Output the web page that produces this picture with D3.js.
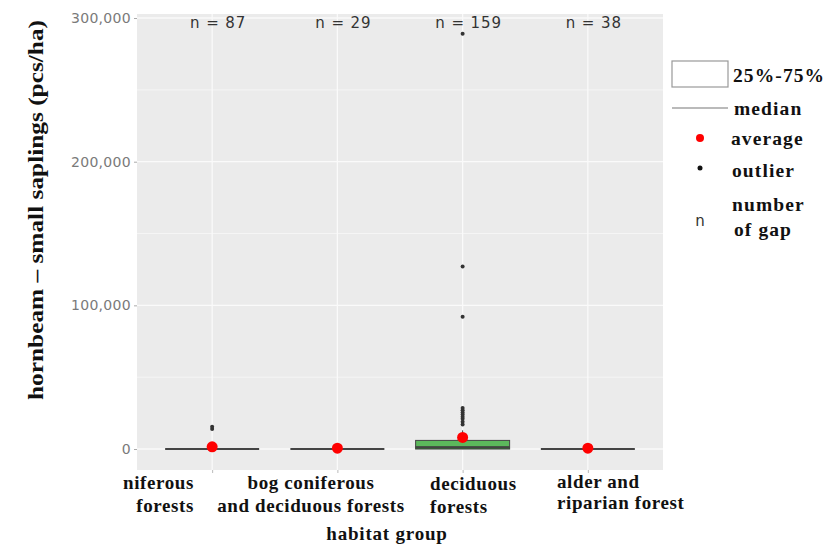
<!DOCTYPE html>
<html><head><meta charset="utf-8">
<script src="https://cdn.jsdelivr.net/npm/d3@7"></script>
<style>body{margin:0;background:#fff}</style>
</head><body>
<svg id="c" width="827" height="545"></svg>
<script>
const categories = ["niferous forests","bog coniferous and deciduous forests","deciduous forests","alder and riparian forest"];
const labelLines = [["niferous","forests"],["bog coniferous","and deciduous forests"],["deciduous","forests"],["alder and","riparian forest"]];
const nCounts = [87, 29, 159, 38];
const q1 = [0, 0, 0, 0];
const medians = [0, 0, 1200, 0];
const q3 = [0, 0, 6000, 0];
const whiskerHigh = [0, 0, 13000, 0];
const averages = [1500, 600, 8100, 600];
const outliers = [
  [14000, 15500],
  [],
  [17000, 19000, 21000, 22500, 24000, 25500, 27000, 28500, 92000, 127000, 289000],
  []
];
const yTicks = [0, 100000, 200000, 300000];
const yMinor = [50000, 150000, 250000];
const legendLabels = ["25%-75%","median","average","outlier","number","of gap"];

const svg = d3.select("#c");
const L = 137, R = 663, T = 14, B = 470;
const y = d3.scaleLinear().domain([-14600, 302800]).range([B, T]);
const x = d3.scalePoint().domain(categories).range([L, R]).padding(0.6);
const boxW = 94;

svg.append("rect").attr("x", L).attr("y", T).attr("width", R - L).attr("height", B - T).attr("fill", "#ebebeb");
svg.selectAll(".mg").data(yMinor).join("line").attr("x1", L).attr("x2", R)
  .attr("y1", d => y(d)).attr("y2", d => y(d)).attr("stroke", "#f5f5f5").attr("stroke-width", 1);
svg.selectAll(".Mg").data(yTicks).join("line").attr("x1", L).attr("x2", R)
  .attr("y1", d => y(d)).attr("y2", d => y(d)).attr("stroke", "#fafafa").attr("stroke-width", 1.3);
svg.selectAll(".xg").data(categories).join("line").attr("x1", d => x(d)).attr("x2", d => x(d))
  .attr("y1", T).attr("y2", B).attr("stroke", "#fafafa").attr("stroke-width", 1.3);

// axes
const yAxis = d3.axisLeft(y).tickValues(yTicks).tickFormat(d3.format(",")).tickSize(3).tickPadding(3);
const ga = svg.append("g").attr("transform", `translate(${L},0)`).call(yAxis);
ga.select(".domain").remove();
ga.selectAll("line").attr("stroke", "#aaa");
ga.selectAll("text").attr("fill", "#7a7a7a").style("font-family", "DejaVu Sans, sans-serif")
  .style("font-size", "14px").style("letter-spacing", "0.3px");
const xAxis = d3.axisBottom(x).tickSize(3).tickFormat("");
const gx = svg.append("g").attr("transform", `translate(0,${B})`).call(xAxis);
gx.select(".domain").remove();
gx.selectAll("line").attr("stroke", "#bbb");

// boxes
categories.forEach((c, i) => {
  const cx = x(c);
  svg.append("line").attr("x1", cx).attr("x2", cx).attr("y1", y(q3[i])).attr("y2", y(whiskerHigh[i]))
    .attr("stroke", "#444").attr("stroke-width", 1);
  if (q3[i] > q1[i]) {
    svg.append("rect").attr("x", cx - boxW / 2).attr("y", y(q3[i])).attr("width", boxW)
      .attr("height", y(q1[i]) - y(q3[i])).attr("fill", "#5cb85c").attr("stroke", "#444").attr("stroke-width", 1);
    svg.append("rect").attr("x", cx - boxW / 2).attr("y", y(medians[i]) - 1).attr("width", boxW)
      .attr("height", y(q1[i]) - y(medians[i]) + 1).attr("fill", "#2f5a2f").attr("opacity", 0.8);
  }
  svg.append("line").attr("x1", cx - boxW / 2).attr("x2", cx + boxW / 2)
    .attr("y1", y(medians[i])).attr("y2", y(medians[i])).attr("stroke", "#444").attr("stroke-width", 2);
  svg.selectAll(null).data(outliers[i]).join("circle").attr("cx", cx).attr("cy", d => y(d)).attr("r", 2)
    .attr("fill", "#333");
  svg.append("circle").attr("cx", cx).attr("cy", y(averages[i])).attr("r", 5.5).attr("fill", "#ff0000");
  svg.append("text").attr("x", cx + 6).attr("y", 28).attr("text-anchor", "middle")
    .style("font-family", "DejaVu Sans, sans-serif").style("font-size", "15px")
    .style("letter-spacing", "0.9px").attr("fill", "#333")
    .text("n = " + nCounts[i]);
});

// x labels
const serif = "Liberation Serif, Times New Roman, serif";
const labPos = [{x: 194, a: "end"}, {x: 311, a: "middle"}, {x: 430, a: "start"}, {x: 557, a: "start"}];
const labY = [[489, 512], [489, 512], [490, 513], [488, 509]];
labelLines.forEach((ls, i) => {
  ls.forEach((t, j) => {
    svg.append("text").attr("x", labPos[i].x).attr("y", labY[i][j]).attr("text-anchor", labPos[i].a)
      .style("font-family", serif).style("font-weight", "bold").style("font-size", "19px")
      .style("letter-spacing", "0.6px").attr("fill", "#111").text(t);
  });
});
svg.append("text").attr("x", 387).attr("y", 540).attr("text-anchor", "middle")
  .style("font-family", serif).style("font-weight", "bold").style("font-size", "19px")
  .style("letter-spacing", "0.8px").attr("fill", "#111").text("habitat group");
svg.append("text").attr("transform", "translate(43,210) rotate(-90)").attr("text-anchor", "middle")
  .attr("textLength", 380).attr("lengthAdjust", "spacingAndGlyphs")
  .style("font-family", serif).style("font-weight", "bold").style("font-size", "22px")
  .attr("fill", "#111").text("hornbeam – small saplings (pcs/ha)");

// legend
const lg = svg.append("g");
const lt = (xx, yy, t) => lg.append("text").attr("x", xx).attr("y", yy)
  .style("font-family", serif).style("font-weight", "bold").style("font-size", "19.5px")
  .style("letter-spacing", "1.1px").attr("fill", "#111").text(t);
lg.append("rect").attr("x", 672).attr("y", 61).attr("width", 56).attr("height", 26)
  .attr("fill", "#fff").attr("stroke", "#999").attr("stroke-width", 1.2);
lt(733, 82, legendLabels[0]);
lg.append("line").attr("x1", 672).attr("x2", 728).attr("y1", 108).attr("y2", 108).attr("stroke", "#777").attr("stroke-width", 1.2);
lt(734, 115, legendLabels[1]);
lg.append("circle").attr("cx", 700).attr("cy", 138).attr("r", 4).attr("fill", "#ff0000");
lt(731, 145, legendLabels[2]);
lg.append("circle").attr("cx", 700).attr("cy", 168).attr("r", 2.5).attr("fill", "#111");
lt(732, 177, legendLabels[3]);
lg.append("text").attr("x", 700).attr("y", 226).attr("text-anchor", "middle")
  .style("font-family", "DejaVu Sans, sans-serif").style("font-size", "15px").attr("fill", "#333").text("n");
lt(732, 211, legendLabels[4]);
lt(734, 236, legendLabels[5]);
</script>
</body></html>
